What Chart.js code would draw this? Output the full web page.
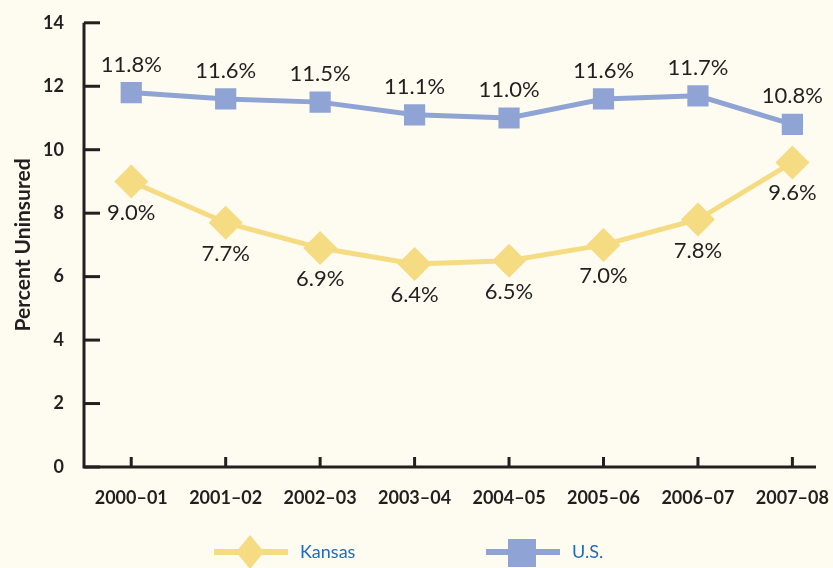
<!DOCTYPE html>
<html>
<head>
<meta charset="utf-8">
<script src="https://cdn.jsdelivr.net/npm/chart.js@4.4.1/dist/chart.umd.min.js"></script>
<style>
  html, body { margin: 0; padding: 0; background: #fefbf0; }
  #wrap { width: 833px; height: 568px; }
</style>
</head>
<body>
<div id="wrap"><canvas id="myChart" width="833" height="568"></canvas></div>
<script>
const years = ['2000\u201301', '2001\u201302', '2002\u201303', '2003\u201304', '2004\u201305', '2005\u201306', '2006\u201307', '2007\u201308'];
const kansas = [9.0, 7.7, 6.9, 6.4, 6.5, 7.0, 7.8, 9.6];
const us = [11.8, 11.6, 11.5, 11.1, 11.0, 11.6, 11.7, 10.8];
const yTicks = [0, 2, 4, 6, 8, 10, 12, 14];

const ink = '#231f20';
const blue = '#8fa3d4';
const yellow = '#f5dc82';
const font = 'Lato, "Open Sans", sans-serif';

function toPoints(arr) {
  return arr.map(function (v, i) { return { x: i, y: v }; });
}

// axis lines, inward ticks, value labels and the legend
const decor = {
  id: 'decor',
  afterDraw: function (chart) {
    const ctx = chart.ctx;
    const xs = chart.scales.x;
    const ys = chart.scales.y;
    const left = xs.left, bottom = ys.bottom, top = ys.top, right = xs.right;
    ctx.save();
    ctx.strokeStyle = ink;
    ctx.lineWidth = 3;
    ctx.beginPath();
    ctx.moveTo(left, top);
    ctx.lineTo(left, bottom);
    ctx.lineTo(right, bottom);
    ctx.stroke();
    yTicks.forEach(function (t) {
      const y = ys.getPixelForValue(t);
      ctx.beginPath();
      ctx.moveTo(left, y);
      ctx.lineTo(left + 16, y);
      ctx.stroke();
    });
    years.forEach(function (lab, i) {
      const x = xs.getPixelForValue(i);
      ctx.beginPath();
      ctx.moveTo(x, bottom);
      ctx.lineTo(x, bottom - 10);
      ctx.stroke();
    });

    // value labels
    ctx.fillStyle = ink;
    ctx.font = '22px ' + font;
    ctx.textAlign = 'center';
    ctx.textBaseline = 'middle';
    chart.getDatasetMeta(1).data.forEach(function (p, i) {
      ctx.fillText(us[i].toFixed(1) + '%', p.x, p.y - 28);
    });
    chart.getDatasetMeta(0).data.forEach(function (p, i) {
      ctx.fillText(kansas[i].toFixed(1) + '%', p.x, p.y + 31);
    });

    // legend
    const ly = 552;
    function legendItem(x0, color, style, text) {
      ctx.strokeStyle = color;
      ctx.lineWidth = 6;
      ctx.beginPath();
      ctx.moveTo(x0, ly);
      ctx.lineTo(x0 + 74, ly);
      ctx.stroke();
      ctx.fillStyle = color;
      const cx = x0 + 36;
      if (style === 'diamond') {
        ctx.beginPath();
        ctx.moveTo(cx, ly - 17);
        ctx.lineTo(cx + 14, ly);
        ctx.lineTo(cx, ly + 17);
        ctx.lineTo(cx - 14, ly);
        ctx.closePath();
        ctx.fill();
      } else {
        ctx.fillRect(cx - 14, ly - 13, 28, 28);
      }
      ctx.fillStyle = '#1f6db3';
      ctx.font = '18px ' + font;
      ctx.textAlign = 'left';
      ctx.fillText(text, x0 + 86, ly);
    }
    legendItem(214, yellow, 'diamond', 'Kansas');
    legendItem(486, blue, 'rect', 'U.S.');
    ctx.restore();
  }
};

new Chart(document.getElementById('myChart').getContext('2d'), {
  type: 'line',
  data: {
    datasets: [{
      label: 'Kansas',
      data: toPoints(kansas),
      borderColor: yellow,
      backgroundColor: yellow,
      borderWidth: 5,
      pointStyle: 'rectRot',
      pointRadius: 17,
      pointBorderWidth: 0,
      tension: 0
    }, {
      label: 'U.S.',
      data: toPoints(us),
      borderColor: blue,
      backgroundColor: blue,
      borderWidth: 5,
      pointStyle: 'rect',
      pointRadius: 15,
      pointBorderWidth: 0,
      tension: 0
    }]
  },
  options: {
    responsive: false,
    animation: false,
    layout: { padding: { top: 19, right: 16, left: 0, bottom: 0 } },
    plugins: {
      legend: { display: false },
      tooltip: { enabled: false }
    },
    scales: {
      x: {
        type: 'linear',
        min: -0.5,
        max: 7.25,
        afterFit: function (scale) {
          scale.height = 101;
          scale.paddingLeft = 0;
          scale.paddingRight = 0;
        },
        afterBuildTicks: function (scale) {
          scale.ticks = years.map(function (l, i) { return { value: i }; });
        },
        grid: { display: false },
        border: { display: false },
        ticks: {
          color: ink,
          padding: 12,
          maxRotation: 0,
          autoSkip: false,
          font: { family: font, size: 18, weight: 'bold' },
          callback: function (v) { return years[v]; }
        }
      },
      y: {
        min: 0,
        max: 14,
        afterFit: function (scale) { scale.width = 84; },
        afterBuildTicks: function (scale) {
          scale.ticks = yTicks.map(function (v) { return { value: v }; });
        },
        grid: { display: false },
        border: { display: false },
        ticks: {
          color: ink,
          padding: 12,
          font: { family: font, size: 18, weight: 'bold' }
        },
        title: {
          display: true,
          text: 'Percent Uninsured',
          color: ink,
          padding: { top: 11, bottom: 8 },
          font: { family: font, size: 21, weight: 'bold' }
        }
      }
    }
  },
  plugins: [decor]
});
</script>
</body>
</html>
